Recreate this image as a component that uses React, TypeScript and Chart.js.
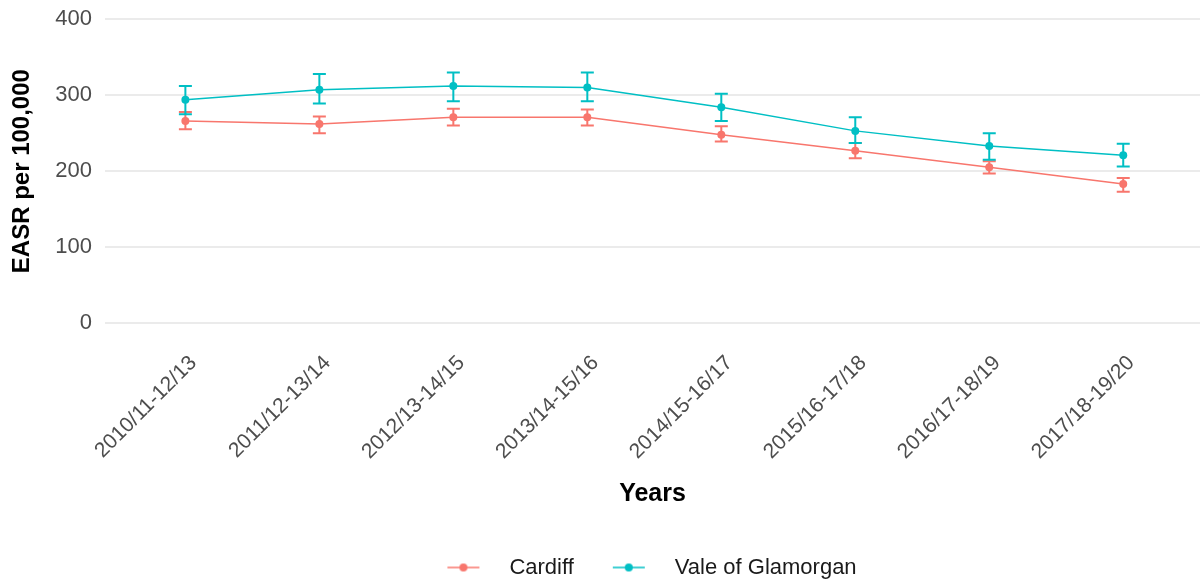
import React, { useEffect, useRef } from 'react';
import { Chart, registerables } from 'chart.js';

Chart.register(...registerables);

const categories = [
  '2010/11-12/13',
  '2011/12-13/14',
  '2012/13-14/15',
  '2013/14-15/16',
  '2014/15-16/17',
  '2015/16-17/18',
  '2016/17-18/19',
  '2017/18-19/20',
];

const seriesNames = ['Cardiff', 'Vale of Glamorgan'];
const seriesColors = ['#F8766D', '#00BFC4'];

const cardiffValues = [266, 262, 271, 271, 248, 227, 205, 183];
const cardiffLower = [255, 250, 260, 260, 239, 217, 197, 173];
const cardiffUpper = [278, 272, 282, 281, 259, 237, 213, 191];

const valeValues = [294, 307, 312, 310, 284, 253, 233, 221];
const valeLower = [275, 289, 292, 292, 266, 237, 215, 206];
const valeUpper = [312, 328, 330, 330, 302, 271, 250, 236];

const yTicks = [0, 100, 200, 300, 400];

const xTitle = 'Years';
const yTitle = 'EASR per 100,000';

function makeKey(color: string): HTMLCanvasElement {
  const c = document.createElement('canvas');
  const leftPad = 35;
  const lineLen = 32;
  const rightPad = 19;
  c.width = leftPad + lineLen + rightPad;
  c.height = 12;
  const ctx = c.getContext('2d')!;
  ctx.strokeStyle = color;
  ctx.lineWidth = 1.5;
  ctx.beginPath();
  ctx.moveTo(leftPad, 6);
  ctx.lineTo(leftPad + lineLen, 6);
  ctx.stroke();
  ctx.fillStyle = color;
  ctx.beginPath();
  ctx.arc(leftPad + lineLen / 2, 6, 4, 0, Math.PI * 2);
  ctx.fill();
  return c;
}

const errorBarsPlugin = {
  id: 'errorBars',
  beforeDatasetsDraw(chart: any) {
    const { ctx } = chart;
    const xs = chart.scales.x;
    const ys = chart.scales.y;
    chart.data.datasets.forEach((ds: any) => {
      const lo: number[] = ds.errLow;
      const hi: number[] = ds.errHigh;
      if (!lo || !hi) return;
      ctx.save();
      ctx.strokeStyle = ds.borderColor;
      ctx.lineWidth = 2;
      ds.data.forEach((p: any, j: number) => {
        const px = xs.getPixelForValue(p.x);
        const yl = ys.getPixelForValue(lo[j]);
        const yh = ys.getPixelForValue(hi[j]);
        const half = 6.5;
        ctx.beginPath();
        ctx.moveTo(px, yl);
        ctx.lineTo(px, yh);
        ctx.moveTo(px - half, yl);
        ctx.lineTo(px + half, yl);
        ctx.moveTo(px - half, yh);
        ctx.lineTo(px + half, yh);
        ctx.stroke();
      });
      ctx.restore();
    });
  },
};

const legendShiftPlugin = {
  id: 'legendShift',
  afterLayout(chart: any) {
    const lg = chart.legend;
    if (lg) {
      lg.left -= 18;
      lg.right -= 18;
    }
  },
};

export default function App() {
  const ref = useRef<HTMLCanvasElement | null>(null);

  useEffect(() => {
    if (!ref.current) return;
    const keys = seriesColors.map((c) => makeKey(c));
    const mk = (vals: number[]) => vals.map((v, i) => ({ x: i, y: v }));
    const chart = new Chart(ref.current, {
      type: 'line',
      data: {
        datasets: [
          {
            label: seriesNames[0],
            data: mk(cardiffValues),
            borderColor: seriesColors[0],
            backgroundColor: seriesColors[0],
            borderWidth: 1.5,
            pointRadius: 4,
            pointBorderWidth: 0,
            pointBackgroundColor: seriesColors[0],
            tension: 0,
            errLow: cardiffLower,
            errHigh: cardiffUpper,
          } as any,
          {
            label: seriesNames[1],
            data: mk(valeValues),
            borderColor: seriesColors[1],
            backgroundColor: seriesColors[1],
            borderWidth: 1.5,
            pointRadius: 4,
            pointBorderWidth: 0,
            pointBackgroundColor: seriesColors[1],
            tension: 0,
            errLow: valeLower,
            errHigh: valeUpper,
          } as any,
        ],
      },
      options: {
        animation: false,
        responsive: false,
        maintainAspectRatio: false,
        layout: { padding: { top: 2, left: 0, right: 0, bottom: -6.5 } },
        plugins: {
          tooltip: { enabled: false },
          legend: {
            position: 'bottom',
            fullSize: false,
            labels: {
              usePointStyle: true,
              pointStyleWidth: 86,
              padding: 4,
              color: '#1A1A1A',
              font: { family: '"Liberation Sans", Arial, sans-serif', size: 22 },
              generateLabels: (ch: any) =>
                ch.data.datasets.map((ds: any, i: number) => ({
                  text: ds.label,
                  fillStyle: seriesColors[i],
                  strokeStyle: seriesColors[i],
                  lineWidth: 0,
                  pointStyle: keys[i],
                  hidden: false,
                  datasetIndex: i,
                  fontColor: '#1A1A1A',
                })),
            },
          },
        },
        scales: {
          x: {
            type: 'linear',
            min: -0.6,
            max: 7.573,
            grid: { display: false, drawTicks: false },
            border: { display: false },
            afterBuildTicks: (scale: any) => {
              scale.ticks = categories.map((_, i) => ({ value: i }));
            },
            afterFit: (scale: any) => {
              scale.height = 214.2;
              scale.paddingLeft = 0;
              scale.paddingRight = 0;
            },
            ticks: {
              autoSkip: false,
              maxRotation: 45,
              minRotation: 45,
              padding: 12.5,
              labelOffset: 8,
              color: '#4D4D4D',
              font: { family: '"Liberation Sans", Arial, sans-serif', size: 21 },
              callback: (v: any) => categories[Math.round(Number(v))] ?? '',
            },
            title: {
              display: true,
              text: xTitle,
              color: '#000000',
              padding: { top: 0, bottom: 43.5 },
              font: { family: '"Liberation Sans", Arial, sans-serif', size: 25, weight: 'bold' },
            },
          },
          y: {
            type: 'linear',
            min: -20,
            max: 420,
            grid: { color: '#EBEBEB', lineWidth: 2, drawTicks: false },
            border: { display: false },
            afterBuildTicks: (scale: any) => {
              scale.ticks = yTicks.map((v) => ({ value: v }));
            },
            afterFit: (scale: any) => {
              scale.width = 105;
              scale.paddingTop = 0;
              scale.paddingBottom = 0;
            },
            ticks: {
              padding: 13,
              color: '#4D4D4D',
              font: { family: '"Liberation Sans", Arial, sans-serif', size: 22 },
              callback: (v: any) => String(v),
            },
            title: {
              display: true,
              text: yTitle,
              color: '#000000',
              padding: { top: 8, bottom: 0 },
              font: { family: '"Liberation Sans", Arial, sans-serif', size: 24, weight: 'bold' },
            },
          },
        },
      } as any,
      plugins: [errorBarsPlugin, legendShiftPlugin],
    });
    return () => chart.destroy();
  }, []);

  return (
    <div style={{ position: 'fixed', left: 0, top: 0, width: 1204, height: 582, background: '#FFFFFF' }}>
      <canvas ref={ref} width={1204} height={582} style={{ display: 'block' }} />
    </div>
  );
}
